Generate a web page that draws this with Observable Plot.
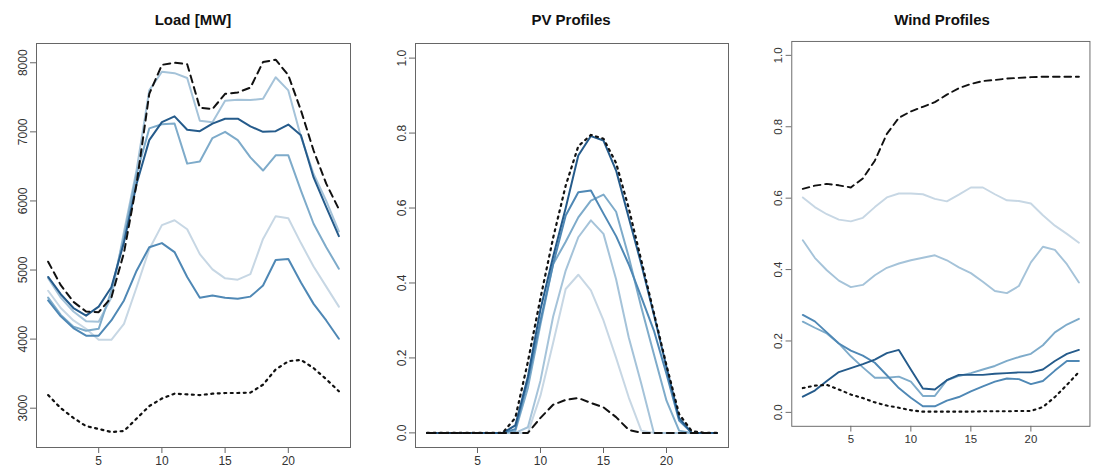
<!DOCTYPE html>
<html><head><meta charset="utf-8">
<script src="https://cdn.jsdelivr.net/npm/d3@7"></script>
<script src="https://cdn.jsdelivr.net/npm/@observablehq/plot@0.6"></script>
<style>
body{margin:0;overflow:hidden;background:#fff;font-family:"Liberation Sans",Arial,sans-serif}
#wrap{position:relative;width:1099px;height:467px;overflow:hidden;background:#fff}
.panel{position:absolute;top:0}
.title{position:absolute;top:11px;font-weight:bold;font-size:15px;line-height:18px;transform:translateX(-50%);white-space:nowrap;color:#111}
</style></head><body><div id="wrap"></div>
<script>
const hours = [1,2,3,4,5,6,7,8,9,10,11,12,13,14,15,16,17,18,19,20,21,22,23,24];
const titles = ["Load [MW]", "PV Profiles", "Wind Profiles"];
const xTicks = [5,10,15,20];
const loadTicks = [3000,4000,5000,6000,7000,8000];
const shareTicks = [0,0.2,0.4,0.6,0.8,1.0];

// Load [MW]
const loadDashed = [5120,4780,4540,4400,4390,4600,5250,6250,7550,7970,8000,7980,7350,7330,7550,7570,7640,8010,8045,7820,7310,6730,6250,5880];
const loadDotted = [3190,3000,2860,2740,2700,2655,2670,2850,3030,3140,3210,3200,3190,3210,3220,3220,3225,3340,3560,3680,3700,3580,3420,3245];
const loadS1 = [4700,4450,4270,4150,3990,3990,4220,4750,5300,5650,5720,5590,5230,5010,4880,4860,4940,5450,5780,5750,5390,5050,4760,4470];
const loadS2 = [4880,4600,4400,4260,4250,4600,5550,6450,7600,7870,7850,7780,7160,7140,7450,7465,7460,7480,7790,7600,6930,6390,6000,5560];
const loadS3 = [4600,4350,4180,4120,4150,4700,5480,6390,7050,7110,7120,6540,6570,6910,7000,6880,6630,6440,6660,6660,6150,5670,5330,5020];
const loadS4 = [4560,4330,4160,4050,4050,4270,4560,4990,5330,5390,5260,4900,4600,4630,4600,4585,4615,4775,5145,5160,4820,4510,4270,4005];
const loadS5 = [4900,4650,4450,4340,4470,4750,5400,6250,6880,7140,7225,7030,7010,7120,7190,7190,7080,7000,7010,7105,6950,6340,5910,5490];

// PV Profiles
const pvDashed = [0,0,0,0,0,0,0,0,0,0.04,0.075,0.088,0.093,0.08,0.068,0.042,0.008,0,0,0,0,0,0,0];
const pvDotted = [0,0,0,0,0,0,0,0.04,0.19,0.36,0.52,0.66,0.765,0.795,0.785,0.72,0.6,0.46,0.32,0.18,0.05,0.005,0,0];
const pvS1 = [0,0,0,0,0,0,0,0,0,0.1,0.24,0.384,0.422,0.38,0.3,0.2,0.095,0.006,0,0,0,0,0,0];
const pvS2 = [0,0,0,0,0,0,0,0,0.015,0.14,0.31,0.433,0.522,0.567,0.531,0.41,0.255,0.131,0,0,0,0,0,0];
const pvS3 = [0,0,0,0,0,0,0,0.005,0.12,0.29,0.45,0.51,0.575,0.62,0.636,0.59,0.47,0.335,0.21,0.086,0.006,0,0,0];
const pvS4 = [0,0,0,0,0,0,0,0.01,0.14,0.3,0.45,0.58,0.642,0.647,0.585,0.525,0.45,0.362,0.273,0.157,0.033,0,0,0];
const pvS5 = [0,0,0,0,0,0,0,0.02,0.15,0.33,0.47,0.6,0.74,0.792,0.78,0.7,0.575,0.45,0.315,0.175,0.04,0,0,0];

// Wind Profiles
const windDashed = [0.626,0.635,0.64,0.636,0.63,0.655,0.705,0.78,0.825,0.843,0.856,0.869,0.89,0.908,0.92,0.928,0.931,0.935,0.937,0.939,0.94,0.94,0.94,0.94];
const windDotted = [0.068,0.075,0.077,0.064,0.05,0.04,0.028,0.019,0.013,0.006,0.002,0.002,0.002,0.002,0.002,0.003,0.003,0.003,0.004,0.004,0.015,0.043,0.077,0.113];
const windS1 = [0.602,0.575,0.555,0.54,0.535,0.545,0.575,0.602,0.613,0.613,0.611,0.598,0.591,0.61,0.63,0.63,0.611,0.594,0.592,0.585,0.552,0.523,0.5,0.475];
const windS2 = [0.482,0.433,0.398,0.369,0.351,0.357,0.384,0.405,0.417,0.426,0.433,0.44,0.426,0.406,0.39,0.366,0.34,0.334,0.354,0.42,0.464,0.455,0.415,0.364];
const windS3 = [0.254,0.237,0.221,0.193,0.157,0.126,0.097,0.097,0.1,0.086,0.046,0.046,0.09,0.102,0.11,0.12,0.13,0.144,0.155,0.164,0.188,0.224,0.246,0.262];
const windS4 = [0.273,0.255,0.224,0.193,0.173,0.159,0.139,0.104,0.068,0.041,0.017,0.017,0.033,0.043,0.059,0.073,0.086,0.095,0.093,0.079,0.088,0.117,0.144,0.144];
const windS5 = [0.044,0.061,0.088,0.113,0.124,0.135,0.148,0.166,0.175,0.12,0.067,0.064,0.09,0.105,0.105,0.105,0.108,0.11,0.112,0.112,0.12,0.144,0.164,0.175];

const blues = ["#c7d7e4","#a5c3d9","#7eabca","#4f88b5","#255b8b"];

const panels = [
  {title: titles[0], left: 0, width: 360, titleX: 193, yDomain: [2431, 8279], yTicks: loadTicks, fmt: d => String(d),
   series: [loadS1, loadS2, loadS3, loadS4, loadS5], dashed: loadDashed, dotted: loadDotted},
  {title: titles[1], left: 379, width: 359, titleX: 571, yDomain: [-0.039, 1.039], yTicks: shareTicks, fmt: d3.format(".1f"),
   series: [pvS1, pvS2, pvS3, pvS4, pvS5], dashed: pvDashed, dotted: pvDotted},
  {title: titles[2], left: 757, width: 359, titleX: 942, yDomain: [-0.039, 1.039], yTicks: shareTicks, fmt: d3.format(".1f"),
   series: [windS1, windS2, windS3, windS4, windS5], dashed: windDashed, dotted: windDotted}
];

const wrap = document.getElementById("wrap");
for (const p of panels) {
  const marks = [
    Plot.axisX({ticks: xTicks, tickSize: 6, tickPadding: 3, label: null, stroke: "#666", fill: "#333"}),
    Plot.axisY({ticks: p.yTicks, tickSize: 6, tickPadding: 4, tickRotate: -90, label: null, tickFormat: p.fmt, stroke: "#666", fill: "#333"}),
    Plot.frame({stroke: "#666"})
  ];
  p.series.forEach((s, i) => {
    marks.push(Plot.line(hours, {x: hours, y: s, stroke: blues[i], strokeWidth: 2}));
  });
  marks.push(Plot.line(hours, {x: hours, y: p.dashed, stroke: "#111", strokeWidth: 2, strokeDasharray: "7,5"}));
  marks.push(Plot.line(hours, {x: hours, y: p.dotted, stroke: "#111", strokeWidth: 2.2, strokeDasharray: "2,4.5"}));
  const svg = Plot.plot({
    width: p.width, height: 467,
    marginLeft: 36, marginRight: 10, marginTop: 43, marginBottom: 20,
    style: {fontFamily: "'Liberation Sans', Arial, sans-serif", fontSize: "12px", background: "transparent", overflow: "visible"},
    x: {domain: [0.08, 24.92]},
    y: {domain: p.yDomain},
    marks
  });
  const div = document.createElement("div");
  div.className = "panel";
  div.style.left = p.left + "px";
  div.appendChild(svg);
  wrap.appendChild(div);
  const t = document.createElement("div");
  t.className = "title";
  t.style.left = p.titleX + "px";
  t.textContent = p.title;
  wrap.appendChild(t);
}
</script>
</body></html>
